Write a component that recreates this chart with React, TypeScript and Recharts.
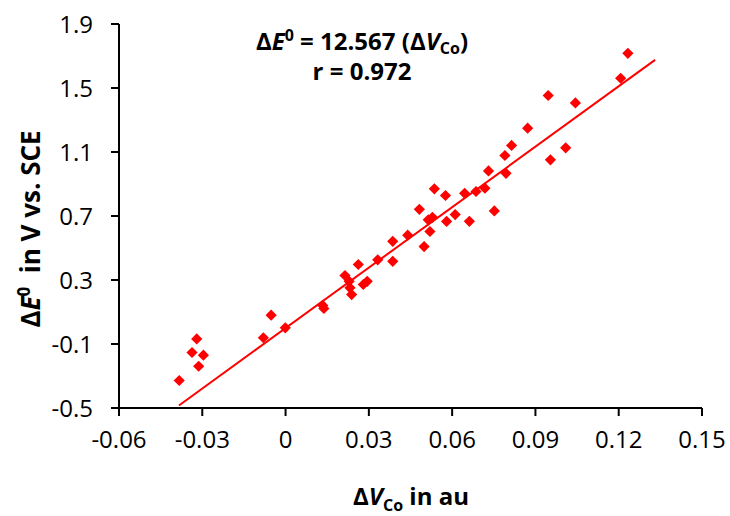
import { Scatter, ScatterChart, XAxis, YAxis } from 'recharts'

// ΔV_Co (au) vs ΔE0 (V vs. SCE)
const deltaVCo = [
  -0.0383, -0.0337, -0.032, -0.0296, -0.0313, -0.008, -0.0052, -0.0001,
  0.0134, 0.0138, 0.0214, 0.0229, 0.0232, 0.0238, 0.0262, 0.028, 0.0294,
  0.0332, 0.0386, 0.0386, 0.044, 0.0482, 0.0499, 0.052, 0.0514, 0.0529,
  0.0536, 0.0576, 0.058, 0.0611, 0.0645, 0.0662, 0.0686, 0.0718, 0.0731,
  0.0752, 0.079, 0.0794, 0.0814, 0.0872, 0.0946, 0.0954, 0.1009, 0.1044,
  0.1207, 0.1233,
]
const deltaE0 = [
  -0.328, -0.153, -0.068, -0.17, -0.239, -0.061, 0.08, 0.001,
  0.141, 0.122, 0.328, 0.292, 0.251, 0.209, 0.397, 0.272, 0.292,
  0.426, 0.542, 0.417, 0.58, 0.742, 0.509, 0.603, 0.676, 0.692,
  0.87, 0.828, 0.666, 0.709, 0.842, 0.667, 0.853, 0.874, 0.982,
  0.732, 1.078, 0.967, 1.141, 1.249, 1.453, 1.051, 1.126, 1.407,
  1.561, 1.717,
]
// ends of the fitted line
const trendX = [-0.0384, 0.1331]
const trendY = [-0.484, 1.676]

const xTicks = [-0.06, -0.03, 0, 0.03, 0.06, 0.09, 0.12, 0.15]
const yTicks = [-0.5, -0.1, 0.3, 0.7, 1.1, 1.5, 1.9]

const points = deltaVCo.map((x, i) => ({ x, y: deltaE0[i] }))
const trend = trendX.map((x, i) => ({ x, y: trendY[i] }))

const RED = '#ff0000'
const FONT = '"Open Sans", sans-serif'

function Diamond(props: any) {
  const { cx, cy } = props
  const r = 5.6
  return (
    <path
      d={`M${cx},${cy - r}L${cx + r},${cy}L${cx},${cy + r}L${cx - r},${cy}Z`}
      fill={RED}
    />
  )
}

const tickStyle = { fontSize: 24, fill: '#000', fontFamily: FONT }

export default function App() {
  return (
    <div
      style={{
        position: 'absolute',
        left: 0,
        top: 0,
        width: 730,
        height: 516,
        background: '#fff',
        fontFamily: FONT,
      }}
    >
      <ScatterChart
        width={730}
        height={516}
        margin={{ top: 24, right: 28, bottom: 0, left: 0 }}
      >
        <XAxis
          type="number"
          dataKey="x"
          domain={[-0.06, 0.15]}
          ticks={xTicks}
          interval={0}
          allowDataOverflow
          height={108}
          tickSize={8}
          tickMargin={15}
          tick={tickStyle}
          tickFormatter={(v: number) => (v === 0 ? '0' : v.toFixed(2))}
          axisLine={{ stroke: '#000', strokeWidth: 2 }}
          tickLine={{ stroke: '#000', strokeWidth: 2 }}
        />
        <YAxis
          type="number"
          dataKey="y"
          domain={[-0.5, 1.9]}
          ticks={yTicks}
          interval={0}
          allowDataOverflow
          width={119}
          tickSize={8}
          tickMargin={18}
          tick={tickStyle}
          tickFormatter={(v: number) => v.toFixed(1)}
          axisLine={{ stroke: '#000', strokeWidth: 2 }}
          tickLine={{ stroke: '#000', strokeWidth: 2 }}
        />
        <Scatter
          data={trend}
          line={{ stroke: RED, strokeWidth: 2 }}
          shape={() => <g />}
          isAnimationActive={false}
        />
        <Scatter data={points} shape={Diamond} isAnimationActive={false} />
      </ScatterChart>

      {/* equation box */}
      <div
        style={{
          position: 'absolute',
          left: 200,
          width: 324,
          top: 26,
          textAlign: 'center',
          fontWeight: 700,
          fontSize: 24,
          lineHeight: '30px',
        }}
      >
        <div>
          Δ<i>E</i>
          <sup style={{ fontSize: 16, verticalAlign: '9px', lineHeight: 0 }}>0</sup> = 12.567 (Δ
          <i>V</i>
          <sub style={{ fontSize: 16, verticalAlign: '-4px', lineHeight: 0 }}>Co</sub>)
        </div>
        <div>r = 0.972</div>
      </div>

      {/* y axis title */}
      <div
        style={{
          position: 'absolute',
          left: 30,
          top: 229,
          transform: 'translate(-50%, -50%) rotate(-90deg)',
          whiteSpace: 'nowrap',
          fontWeight: 700,
          fontSize: 26,
          lineHeight: '30px',
        }}
      >
        Δ<i>E</i>
        <sup style={{ fontSize: 17, verticalAlign: '10px', lineHeight: 0 }}>0</sup>
        {'\u00a0 in V vs. SCE'}
      </div>

      {/* x axis title */}
      <div
        style={{
          position: 'absolute',
          left: 411,
          top: 496,
          transform: 'translate(-50%, -50%)',
          whiteSpace: 'nowrap',
          fontWeight: 700,
          fontSize: 24,
          lineHeight: '28px',
        }}
      >
        Δ<i>V</i>
        <sub style={{ fontSize: 16, verticalAlign: '-6px', lineHeight: 0 }}>Co</sub> in au
      </div>
    </div>
  )
}
